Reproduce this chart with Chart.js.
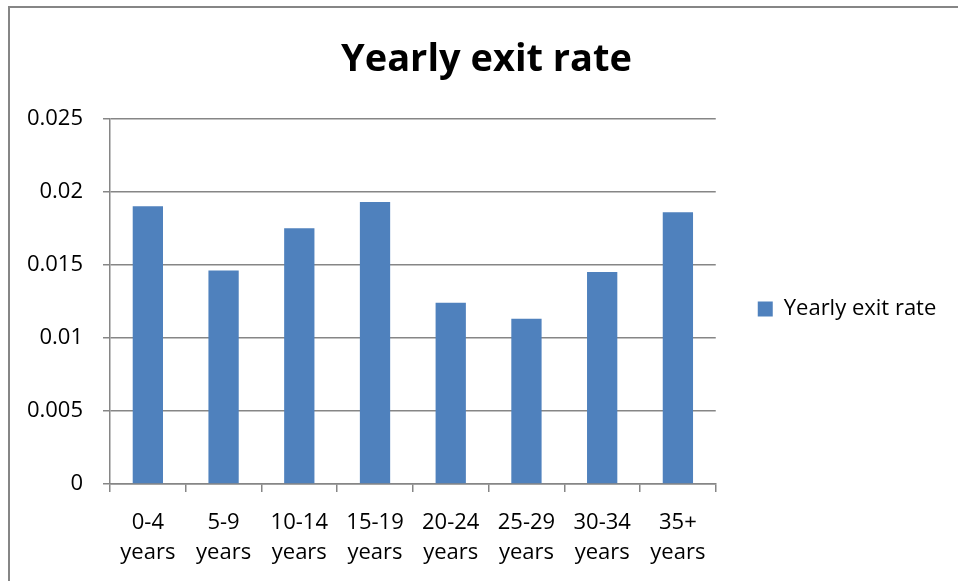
<!DOCTYPE html>
<html>
<head>
<meta charset="utf-8">
<script src="https://cdn.jsdelivr.net/npm/chart.js@4"></script>
<style>
  html, body { margin: 0; padding: 0; background: #fff; }
  body { width: 958px; height: 581px; position: relative; overflow: hidden; }
  #frame { position: absolute; left: 8px; top: 6px; width: 1000px; height: 700px;
           border-left: 2px solid #868686; border-top: 2px solid #868686; }
  #wrap { position: absolute; left: 0; top: 0; width: 945px; height: 581px; }
</style>
</head>
<body>
<div id="frame"></div>
<div id="wrap"><canvas id="chart"></canvas></div>
<script>
const categories = [['0-4', 'years'], ['5-9', 'years'], ['10-14', 'years'], ['15-19', 'years'],
                    ['20-24', 'years'], ['25-29', 'years'], ['30-34', 'years'], ['35+', 'years']];
const exitRates = [0.0190, 0.0146, 0.0175, 0.0193, 0.0124, 0.0113, 0.0145, 0.0186];
const yTicks = [0, 0.005, 0.01, 0.015, 0.02, 0.025];

const FONT = '"Open Sans", sans-serif';
const GRID = '#868686';

new Chart(document.getElementById('chart'), {
    type: 'bar',
    data: {
        labels: categories,
        datasets: [{
            label: 'Yearly exit rate',
            data: exitRates,
            backgroundColor: '#4F81BD',
            borderWidth: 0,
            categoryPercentage: 1,
            barPercentage: 0.4
        }]
    },
    options: {
        responsive: true,
        maintainAspectRatio: false,
        animation: false,
        layout: { padding: { left: 28, right: 0, top: 37, bottom: 0 } },
        plugins: {
            title: {
                display: true,
                text: 'Yearly exit rate',
                color: '#000',
                font: { family: FONT, size: 38, weight: 'bold', lineHeight: 1.2 },
                padding: { top: 0, bottom: 36 }
            },
            legend: {
                position: 'right',
                labels: {
                    color: '#000',
                    font: { family: FONT, size: 22 },
                    boxWidth: 15,
                    boxHeight: 15,
                    padding: 42
                }
            },
            tooltip: { enabled: false }
        },
        scales: {
            x: {
                afterFit: axis => { axis.height = 97; },
                grid: { display: true, drawOnChartArea: false, drawTicks: true, tickLength: 8, color: GRID, lineWidth: 1.5 },
                border: { color: GRID, width: 1.5 },
                ticks: { color: '#000', font: { family: FONT, size: 22, lineHeight: 1.36 }, padding: 16, maxRotation: 0 }
            },
            y: {
                min: 0,
                max: 0.025,
                afterBuildTicks: axis => { axis.ticks = yTicks.map(v => ({ value: v })); },
                afterFit: axis => { axis.width = 82; },
                grid: { color: GRID, lineWidth: 1.5, tickLength: 7 },
                border: { color: GRID, width: 1.5 },
                ticks: { color: '#000', font: { family: FONT, size: 22 }, padding: 20,
                         callback: v => String(v) }
            }
        }
    }
});
</script>
</body>
</html>
